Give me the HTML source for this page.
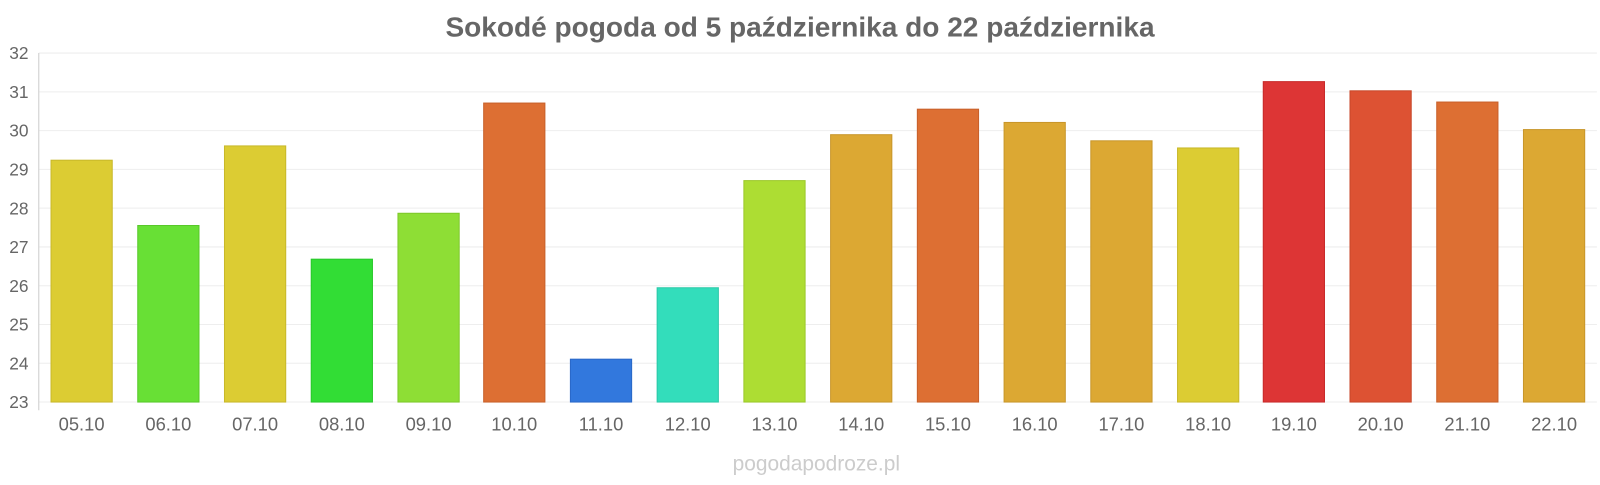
<!DOCTYPE html>
<html><head><meta charset="utf-8"><style>
body{margin:0;background:#fff;width:1600px;height:480px;overflow:hidden;font-family:"Liberation Sans",sans-serif}
</style></head><body>
<svg width="1600" height="480" viewBox="0 0 1568 470.4" xmlns="http://www.w3.org/2000/svg" font-family="Liberation Sans, sans-serif">
<text x="784" y="36" text-anchor="middle" font-size="27.5" font-weight="bold" fill="#666">Sokodé pogoda od 5 października do 22 października</text>
<g stroke="#eee" stroke-width="1">
<line x1="38" x2="1565" y1="52" y2="52"/><line x1="38" x2="1565" y1="90" y2="90"/><line x1="38" x2="1565" y1="128" y2="128"/><line x1="38" x2="1565" y1="166" y2="166"/><line x1="38" x2="1565" y1="204" y2="204"/><line x1="38" x2="1565" y1="242" y2="242"/><line x1="38" x2="1565" y1="280" y2="280"/><line x1="38" x2="1565" y1="318" y2="318"/><line x1="38" x2="1565" y1="356" y2="356"/><line x1="38" x2="1565" y1="394" y2="394"/>
</g>
<line x1="38" x2="38" y1="52" y2="402" stroke="#ccc"/>
<g font-size="17" fill="#666" text-anchor="end">
<text x="28" y="58">32</text><text x="28" y="96">31</text><text x="28" y="134">30</text><text x="28" y="172">29</text><text x="28" y="210">28</text><text x="28" y="248">27</text><text x="28" y="286">26</text><text x="28" y="324">25</text><text x="28" y="362">24</text><text x="28" y="400">23</text>
</g>
<g stroke-width="1">
<rect x="50" y="157" width="60" height="237" fill="#dccc33" stroke="#c8b82a"/>
<rect x="135" y="221" width="60" height="173" fill="#68e035" stroke="#58c82a"/>
<rect x="220" y="143" width="60" height="251" fill="#dccc33" stroke="#c8b82a"/>
<rect x="305" y="254" width="60" height="140" fill="#32dd35" stroke="#28c82a"/>
<rect x="390" y="209" width="60" height="185" fill="#8ede35" stroke="#7ec82a"/>
<rect x="474" y="101" width="60" height="293" fill="#dd6f33" stroke="#c8602a"/>
<rect x="559" y="352" width="60" height="42" fill="#3278dd" stroke="#2a68c8"/>
<rect x="644" y="282" width="60" height="112" fill="#33ddbb" stroke="#2ac8a8"/>
<rect x="729" y="177" width="60" height="217" fill="#addd33" stroke="#9cc82a"/>
<rect x="814" y="132" width="60" height="262" fill="#dca833" stroke="#c8962a"/>
<rect x="899" y="107" width="60" height="287" fill="#dd6f33" stroke="#c8602a"/>
<rect x="984" y="120" width="60" height="274" fill="#dca833" stroke="#c8962a"/>
<rect x="1069" y="138" width="60" height="256" fill="#dca833" stroke="#c8962a"/>
<rect x="1154" y="145" width="60" height="249" fill="#dccc33" stroke="#c8b82a"/>
<rect x="1238" y="80" width="60" height="314" fill="#dd3535" stroke="#c82a2a"/>
<rect x="1323" y="89" width="60" height="305" fill="#dd5233" stroke="#c8482a"/>
<rect x="1408" y="100" width="60" height="294" fill="#dd6f33" stroke="#c8602a"/>
<rect x="1493" y="127" width="60" height="267" fill="#dca833" stroke="#c8962a"/>
</g>
<g font-size="18" fill="#666" text-anchor="middle">
<text x="80" y="422">05.10</text><text x="165" y="422">06.10</text><text x="250" y="422">07.10</text><text x="335" y="422">08.10</text><text x="420" y="422">09.10</text><text x="504" y="422">10.10</text><text x="589" y="422">11.10</text><text x="674" y="422">12.10</text><text x="759" y="422">13.10</text><text x="844" y="422">14.10</text><text x="929" y="422">15.10</text><text x="1014" y="422">16.10</text><text x="1099" y="422">17.10</text><text x="1184" y="422">18.10</text><text x="1268" y="422">19.10</text><text x="1353" y="422">20.10</text><text x="1438" y="422">21.10</text><text x="1523" y="422">22.10</text>
</g>
<text x="800" y="461" text-anchor="middle" font-size="20.5" fill="#ccc">pogodapodroze.pl</text>
</svg>
</body></html>
